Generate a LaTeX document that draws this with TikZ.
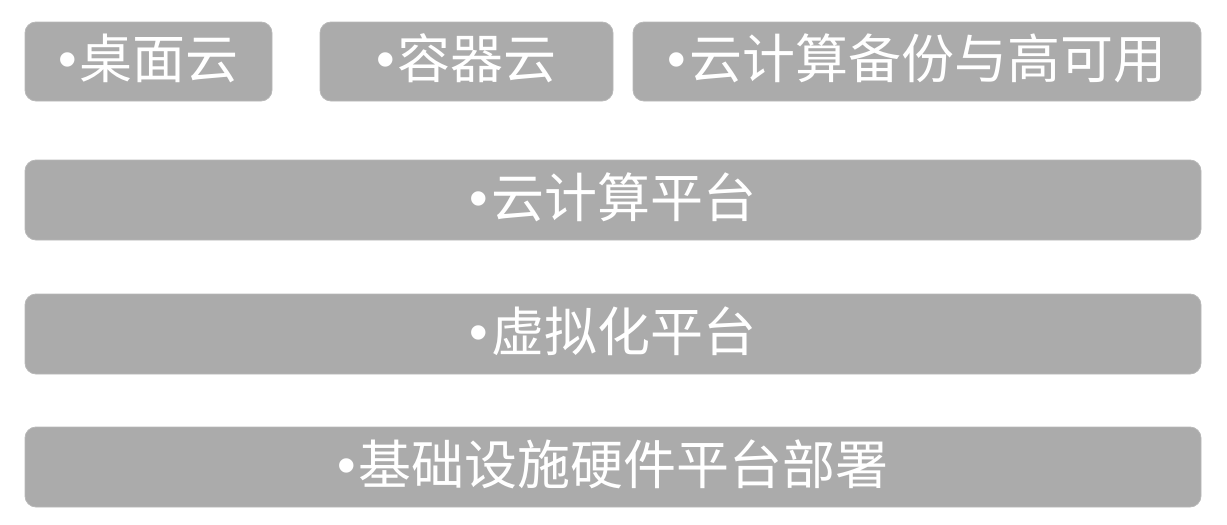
\documentclass[tikz,border=0pt]{standalone}
\usepackage{fontspec}
\newfontfamily\cjk{Noto Sans CJK SC}
\newfontfamily\bul{Liberation Sans}
\newcommand{\dotmark}{{\bul\raisebox{1pt}{•}}\hspace{3pt}}
\definecolor{boxgray}{HTML}{ABABAB}
\tikzset{
  layer/.style={fill=boxgray, draw=boxgray!85!white, line width=0.8pt, rounded corners=11pt},
  lbl/.style={text=white, font=\cjk\fontsize{53}{53}\selectfont, inner sep=0pt, anchor=center}
}
\begin{document}
\begin{tikzpicture}[x=1pt,y=-1pt]
\useasboundingbox (0,0) rectangle (1227,525);
\draw[layer] (25,22) rectangle (272,101);
\draw[layer] (320,22) rectangle (613,101);
\draw[layer] (633,22) rectangle (1201,101);
\draw[layer] (25,160) rectangle (1201,240);
\draw[layer] (25,294) rectangle (1201,374);
\draw[layer] (25,427) rectangle (1201,507);
\node[lbl] (t1) at (148.5,58) {\dotmark 桌面云};
\node[lbl] (t2) at (466.5,58) {\dotmark 容器云};
\node[lbl] (t3) at (917,58) {\dotmark 云计算备份与高可用};
\node[lbl] (t4) at (613,197) {\dotmark 云计算平台};
\node[lbl] (t5) at (613,331) {\dotmark 虚拟化平台};
\node[lbl] (t6) at (613,464) {\dotmark 基础设施硬件平台部署};
\end{tikzpicture}
\end{document}
